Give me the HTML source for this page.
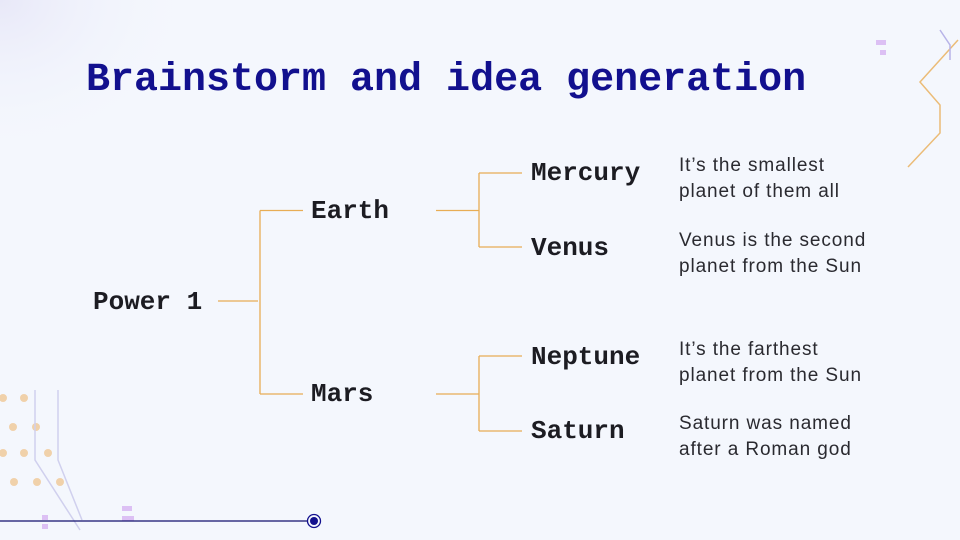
<!DOCTYPE html>
<html><head><meta charset="utf-8"><style>
html,body{margin:0;padding:0}
body{width:960px;height:540px;overflow:hidden;background:#f4f7fd;position:relative;font-family:"Liberation Sans",sans-serif}
.t{position:absolute;white-space:nowrap}
.title{left:86px;top:56px;font:bold 40px "Liberation Mono",monospace;color:#12108e;line-height:50px}
.n{font:bold 26px "Liberation Mono",monospace;color:#1c1c22;line-height:30px}
.d{font-size:19px;letter-spacing:0.9px;color:#2a2a30;line-height:26px}
</style></head><body>
<svg width="960" height="540" style="position:absolute;left:0;top:0">
<defs><radialGradient id="g" cx="0" cy="0" r="1"><stop offset="0" stop-color="#e8e8f8"/><stop offset="1" stop-color="#f4f7fd" stop-opacity="0"/></radialGradient></defs>
<rect x="0" y="0" width="200" height="160" fill="url(#g)"/>
<g stroke="#e8ad55" stroke-width="1.3" fill="none">
<path d="M218 301H258M260 210.5V394M260 210.5H303M260 394H303"/>
<path d="M436 210.5H479M479 173V247M479 173H522M479 247H522"/>
<path d="M436 394H479M479 356V431M479 356H522M479 431H522"/>
<path d="M908 167L940 133V105L920 82L958 40" stroke-width="1.5" opacity=".8"/>
</g>
<path d="M940 30L950 45V60" stroke="#b8b4e8" fill="none" stroke-width="1.5"/>
<g fill="#f0c896" opacity=".8">
<circle cx="3" cy="398" r="4"/><circle cx="24" cy="398" r="4"/><circle cx="13" cy="427" r="4"/><circle cx="36" cy="427" r="4"/><circle cx="3" cy="453" r="4"/><circle cx="24" cy="453" r="4"/><circle cx="48" cy="453" r="4"/><circle cx="14" cy="482" r="4"/><circle cx="37" cy="482" r="4"/><circle cx="60" cy="482" r="4"/>
</g>
<g stroke="#d0d0ee" fill="none" stroke-width="1.5">
<path d="M35 390V460L80 530"/><path d="M58 390V460L82 520"/>
</g>
<g fill="#dcc0f4"><rect x="42" y="515" width="6" height="5"/><rect x="42" y="524" width="6" height="5"/><rect x="122" y="506" width="10" height="5"/><rect x="122" y="516" width="12" height="5"/><rect x="876" y="40" width="10" height="5"/><rect x="880" y="50" width="6" height="5"/></g>
<path d="M0 521H308" stroke="#11106e" stroke-width="1.2"/>
<circle cx="314" cy="521" r="6.5" fill="none" stroke="#12108e" stroke-width="1.3"/>
<circle cx="314" cy="521" r="4" fill="#12108e"/>
</svg>
<div class="t title">Brainstorm and idea generation</div>
<div class="t n" style="left:93px;top:287px">Power 1</div>
<div class="t n" style="left:311px;top:196px">Earth</div>
<div class="t n" style="left:311px;top:379px">Mars</div>
<div class="t n" style="left:531px;top:158px">Mercury</div>
<div class="t n" style="left:531px;top:233px">Venus</div>
<div class="t n" style="left:531px;top:342px">Neptune</div>
<div class="t n" style="left:531px;top:416px">Saturn</div>
<div class="t d" style="left:679px;top:153px">It’s the smallest<br>planet of them all</div>
<div class="t d" style="left:679px;top:228px">Venus is the second<br>planet from the Sun</div>
<div class="t d" style="left:679px;top:337px">It’s the farthest<br>planet from the Sun</div>
<div class="t d" style="left:679px;top:411px">Saturn was named<br>after a Roman god</div>
</body></html>
